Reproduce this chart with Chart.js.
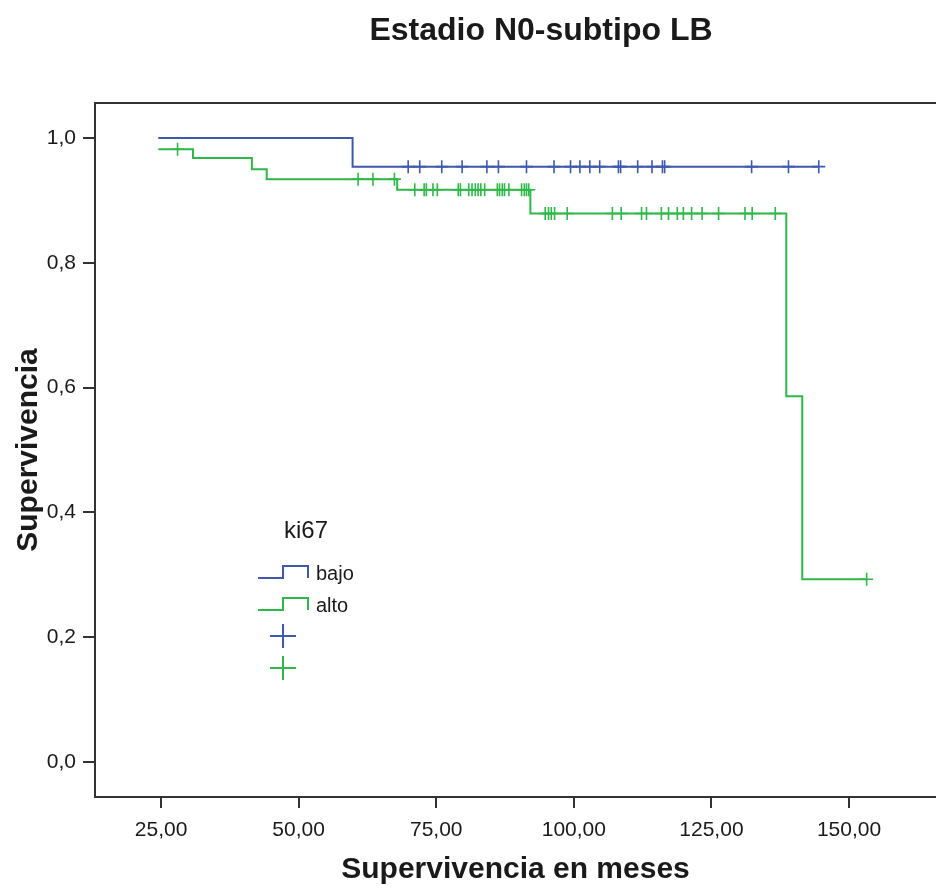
<!DOCTYPE html>
<html>
<head>
<meta charset="utf-8">
<script src="https://cdn.jsdelivr.net/npm/chart.js@4"></script>
<style>
  html, body { margin: 0; padding: 0; background: #fff; overflow: hidden; }
</style>
</head>
<body>
<canvas id="chart" width="936" height="890"></canvas>
<script>
const titulo = 'Estadio N0-subtipo LB';
const ejeX = 'Supervivencia en meses';
const ejeY = 'Supervivencia';
const leyendaTitulo = 'ki67';
const grupos = ['bajo', 'alto'];
const xTicks = [25, 50, 75, 100, 125, 150];
const yTicks = [0, 0.2, 0.4, 0.6, 0.8, 1.0];

// ki67 bajo: tiempos de evento y supervivencia acumulada
const bajoTiempo = [24.5, 59.8, 144.5];
const bajoSuperv = [1.0, 0.954, 0.954];
const bajoCensura = [69.9, 72.0, 76.0, 79.7, 84.2, 86.3, 91.4, 96.4, 99.4, 101.1, 102.9, 104.7,
  108.1, 108.5, 111.6, 114.2, 116.1, 116.5, 132.3, 139.0, 144.5];

// ki67 alto
const altoTiempo = [24.5, 30.8, 41.5, 44.2, 67.9, 92.1, 138.6, 141.5, 153.2];
const altoSuperv = [0.982, 0.968, 0.950, 0.934, 0.917, 0.879, 0.586, 0.293, 0.293];
const altoCensura = [28.0, 60.8, 63.5, 67.4, 71.1, 72.8, 73.2, 74.4, 75.2, 79.0, 79.4, 80.9, 81.5,
  82.1, 82.6, 83.1, 83.8, 86.1, 86.5, 87.0, 87.4, 88.2, 90.5, 91.0, 91.4, 91.8, 94.8, 95.4, 95.9,
  96.5, 98.8, 107.0, 108.6, 112.3, 113.2, 115.9, 117.2, 118.8, 119.9, 121.4, 123.3, 126.3, 131.1,
  132.4, 136.6, 153.2];

const azul = '#3E58AC';
const verde = '#2EB848';
const texto = '#1a1a1a';
const fuente = '"Liberation Sans", Arial, sans-serif';

// nivel de la curva en el tiempo t (para colocar las cruces de censura)
function nivel(tiempos, superv, t) {
  let s = superv[0];
  for (let i = 0; i < tiempos.length; i++) {
    if (tiempos[i] <= t) s = superv[i];
  }
  return s;
}

const curva = (t, s) => t.map((x, i) => ({ x: x, y: s[i] }));
const cruces = (c, t, s) => c.map(x => ({ x: x, y: nivel(t, s, x) }));

const extras = {
  id: 'extras',
  afterDraw(chart) {
    const c = chart.ctx;
    const a = chart.chartArea;
    c.save();
    // marco superior
    c.strokeStyle = '#333';
    c.lineWidth = 2;
    c.beginPath();
    c.moveTo(a.left - 1, a.top);
    c.lineTo(a.right, a.top);
    c.stroke();

    // titulo
    c.fillStyle = texto;
    c.font = 'bold 32px ' + fuente;
    c.textAlign = 'center';
    c.textBaseline = 'middle';
    c.fillText(titulo, 541, 31);

    // leyenda
    c.font = '24px ' + fuente;
    c.fillText(leyendaTitulo, 306, 531);

    const cols = [azul, verde];
    const ys = [578, 610];
    c.font = '20px ' + fuente;
    c.textAlign = 'left';
    cols.forEach((col, i) => {
      const y = ys[i];
      c.strokeStyle = col;
      c.lineWidth = 2;
      c.beginPath();
      c.moveTo(258, y);
      c.lineTo(283, y);
      c.lineTo(283, y - 12);
      c.lineTo(308, y - 12);
      c.lineTo(308, y);
      c.stroke();
      c.fillStyle = texto;
      c.fillText(grupos[i], 316, y - 4);
    });
    [[azul, 636], [verde, 668]].forEach(([col, y]) => {
      c.strokeStyle = col;
      c.lineWidth = 2;
      c.beginPath();
      c.moveTo(270, y);
      c.lineTo(296, y);
      c.moveTo(283, y - 12);
      c.lineTo(283, y + 12);
      c.stroke();
    });
    c.restore();
  }
};

new Chart(document.getElementById('chart'), {
  type: 'line',
  data: {
    datasets: [
      {
        label: grupos[0],
        data: curva(bajoTiempo, bajoSuperv),
        borderColor: azul,
        borderWidth: 2,
        stepped: true,
        pointRadius: 0,
        fill: false
      },
      {
        label: grupos[1],
        data: curva(altoTiempo, altoSuperv),
        borderColor: verde,
        borderWidth: 2,
        stepped: true,
        pointRadius: 0,
        fill: false
      },
      {
        label: grupos[0] + ' censurado',
        data: cruces(bajoCensura, bajoTiempo, bajoSuperv),
        showLine: false,
        pointStyle: 'cross',
        pointRadius: 6.5,
        pointBorderWidth: 1.6,
        borderColor: azul,
        backgroundColor: azul
      },
      {
        label: grupos[1] + ' censurado',
        data: cruces(altoCensura, altoTiempo, altoSuperv),
        showLine: false,
        pointStyle: 'cross',
        pointRadius: 6.5,
        pointBorderWidth: 1.6,
        borderColor: verde,
        backgroundColor: verde
      }
    ]
  },
  options: {
    responsive: false,
    animation: false,
    devicePixelRatio: 1,
    layout: { autoPadding: false, padding: { top: 103, left: 0, right: 0, bottom: 0 } },
    plugins: {
      legend: { display: false },
      tooltip: { enabled: false },
      title: { display: false }
    },
    scales: {
      x: {
        type: 'linear',
        min: 13,
        max: 165.8,
        afterBuildTicks: s => { s.ticks = xTicks.map(v => ({ value: v })); },
        afterFit: s => { s.height = 93; },
        grid: { drawOnChartArea: false, drawTicks: true, tickLength: 11, color: '#333', lineWidth: 2 },
        border: { color: '#333', width: 2 },
        ticks: {
          color: texto,
          padding: 10,
          maxRotation: 0,
          font: { family: fuente, size: 21 },
          callback: v => v.toFixed(2).replace('.', ',')
        },
        title: {
          display: true,
          text: ejeX,
          color: texto,
          font: { family: fuente, size: 30, weight: 'bold' },
          padding: { top: 0, bottom: 2 }
        }
      },
      y: {
        min: -0.056,
        max: 1.056,
        afterBuildTicks: s => { s.ticks = yTicks.map(v => ({ value: v })); },
        afterFit: s => { s.width = 95; },
        grid: { drawOnChartArea: false, drawTicks: true, tickLength: 12, color: '#333', lineWidth: 2 },
        border: { color: '#333', width: 2 },
        ticks: {
          color: texto,
          padding: 7,
          font: { family: fuente, size: 21 },
          callback: v => v.toFixed(1).replace('.', ',')
        },
        title: {
          display: true,
          text: ejeY,
          color: texto,
          font: { family: fuente, size: 30, weight: 'bold' },
          padding: { top: 11, bottom: 0 }
        }
      }
    }
  },
  plugins: [extras]
});
</script>
</body>
</html>
